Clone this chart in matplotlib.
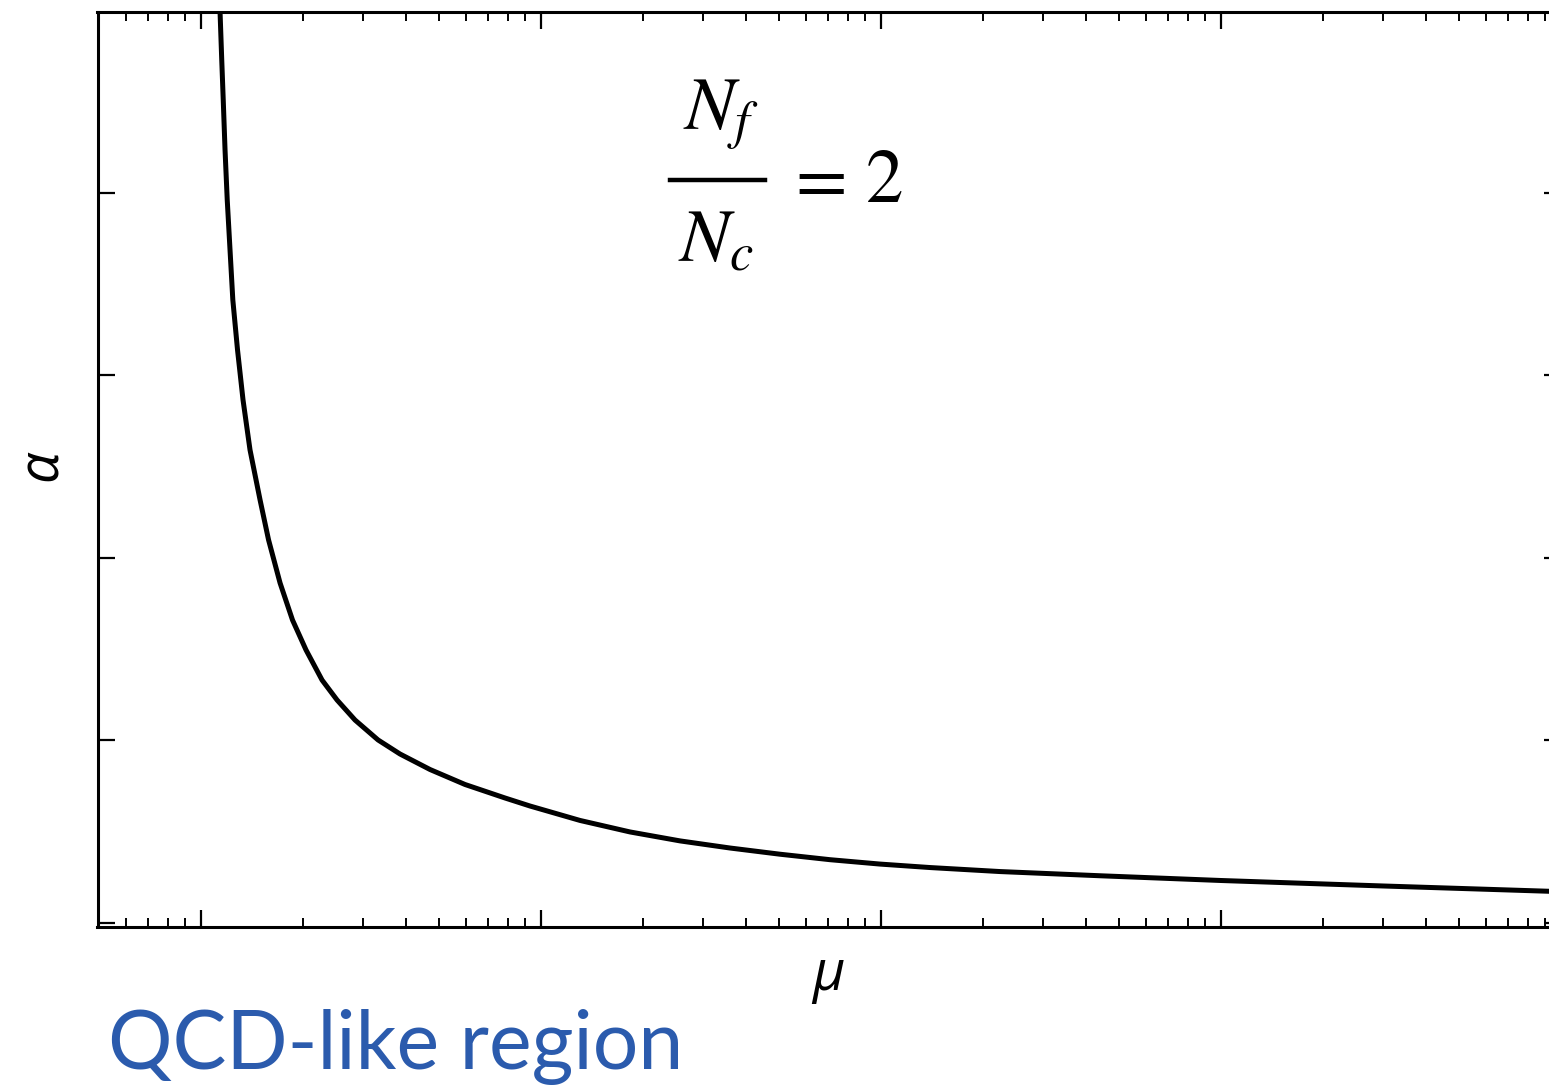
import matplotlib
matplotlib.use("Agg")
import matplotlib.pyplot as plt
from matplotlib.lines import Line2D
from matplotlib.ticker import LogLocator, NullFormatter, FixedLocator

# running coupling (mu on a log axis, alpha in arbitrary units)
mu = [1.1374, 1.1505, 1.1623, 1.1765, 1.1941, 1.2169, 1.2402, 1.2803, 1.3289,
      1.3934, 1.4915, 1.5798, 1.7078, 1.8580, 2.0361, 2.2699, 2.5119, 2.8379,
      3.3164, 3.8481, 4.7164, 5.9764, 7.8374, 9.2832, 13.022, 18.269, 25.630,
      35.958, 50.456, 70.795, 99.325, 139.34, 223.87, 440.63, 1000, 2995,
      9220, 10000]
alpha = [4.991, 4.728, 4.508, 4.235, 3.961, 3.687, 3.413, 3.139, 2.865,
         2.591, 2.317, 2.098, 1.862, 1.659, 1.495, 1.330, 1.221, 1.111,
         1.002, 0.925, 0.840, 0.758, 0.684, 0.640, 0.561, 0.498, 0.449,
         0.410, 0.376, 0.346, 0.322, 0.303, 0.281, 0.258, 0.232, 0.202,
         0.173, 0.170]

y_ticks = [0, 1, 2, 3, 4]
numerator = r"$N_f$"
denominator = r"$N_c$"
rhs = "2"
region_label = "QCD-like region"

plt.rcParams["mathtext.fontset"] = "stix"

W, H = 1549, 1086
fig = plt.figure(figsize=(W / 100, H / 100), dpi=100)
ax = fig.add_axes([97.5 / W, 159.5 / H, (1561 - 97.5) / W, (926.5 - 12) / H])

ax.plot(mu, alpha, color="black", lw=3.6, solid_capstyle="butt")

ax.set_xscale("log")
ax.set_xlim(0.496, 1e4)
ax.set_ylim(-0.02, 4.99)

ax.xaxis.set_major_locator(LogLocator(base=10, numticks=10))
ax.xaxis.set_minor_locator(LogLocator(base=10, subs=range(2, 10), numticks=20))
ax.xaxis.set_major_formatter(NullFormatter())
ax.xaxis.set_minor_formatter(NullFormatter())
ax.yaxis.set_major_locator(FixedLocator(y_ticks))
ax.set_yticklabels([])

ax.tick_params(which="both", direction="in", top=True, right=True,
               labelbottom=False, labelleft=False, color="black")
ax.tick_params(which="major", length=12.5, width=1.6)
ax.tick_params(which="minor", length=6.5, width=1.4)
for s in ax.spines.values():
    s.set_linewidth(2.2)

# N_f / N_c = 2, built from pieces so it can be placed like the original
def fx(px):
    return px / W

def fy(py):
    return 1 - py / H

fs = 54
fig.text(fx(721), fy(130), numerator, fontsize=fs, ha="center", va="baseline")
fig.text(fx(716), fy(262), denominator, fontsize=fs, ha="center", va="baseline")
fig.add_artist(Line2D([fx(670), fx(765)], [fy(180), fy(180)], color="black",
                      lw=3.2, transform=fig.transFigure))
fig.text(fx(815), fy(180), r"$=$", fontsize=fs, ha="center", va="center")
fig.text(fx(866), fy(202), rhs, fontsize=fs, family="STIXGeneral",
         ha="left", va="baseline")

fig.text(fx(42), fy(465), "α", fontsize=40, fontstyle="italic",
         family=["Open Sans", "DejaVu Sans"], rotation=90, ha="center", va="center")
fig.text(fx(828), fy(976), "μ", fontsize=40, fontstyle="italic",
         family=["Open Sans", "DejaVu Sans"], ha="center", va="center")

fig.text(fx(108), fy(1069), region_label, fontsize=58, color="#2b5bad",
         family="Lato", ha="left", va="baseline")

fig.savefig("out.png", dpi=100)
